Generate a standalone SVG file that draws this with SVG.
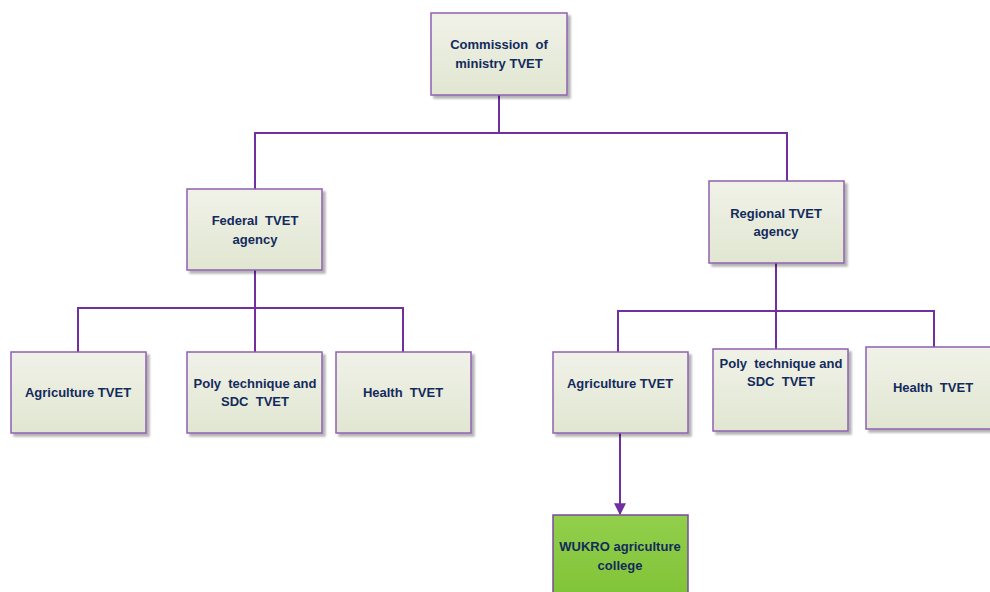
<svg xmlns="http://www.w3.org/2000/svg" width="990" height="592" viewBox="0 0 990 592">
  <defs>
    <linearGradient id="boxFill" x1="0" y1="0" x2="0" y2="1">
      <stop offset="0" stop-color="#f0f2e8"/>
      <stop offset="1" stop-color="#e1e6d1"/>
    </linearGradient>
    <linearGradient id="greenFill" x1="0" y1="0" x2="0" y2="1">
      <stop offset="0" stop-color="#92cf4c"/>
      <stop offset="1" stop-color="#7fc236"/>
    </linearGradient>
    <filter id="shadow" x="-10%" y="-10%" width="130%" height="130%">
      <feGaussianBlur in="SourceAlpha" stdDeviation="1"/>
      <feOffset dx="3" dy="3" result="b"/>
      <feComponentTransfer><feFuncA type="linear" slope="0.3"/></feComponentTransfer>
      <feMerge><feMergeNode/><feMergeNode in="SourceGraphic"/></feMerge>
    </filter>
    <marker id="arrow" viewBox="0 0 10 10" refX="9" refY="5" markerWidth="13" markerHeight="12" orient="auto" markerUnits="userSpaceOnUse">
      <path d="M0,0 L10,5 L0,10 z" fill="#7030a0"/>
    </marker>
  </defs>
  <style>
    .box { fill: url(#boxFill); stroke: #8e60b0; stroke-width: 1.5; filter: url(#shadow); }
    .green { fill: url(#greenFill); stroke: #7a4a9e; stroke-width: 1.5; }
    .lbl { font-family: "Liberation Sans", Arial, sans-serif; font-weight: bold; font-size: 13px; fill: #132a5c; text-anchor: middle; white-space: pre; }
    .conn { fill: none; stroke: #7030a0; stroke-width: 2; }
  </style>

  <rect width="990" height="592" fill="#ffffff"/>

  <g id="connectors">
    <path class="conn" d="M499,95 V133 M255,189 V133 H787 V181"/>
    <path class="conn" d="M255,270 V308 M78,352 V308 H403 V352 M255,308 V352"/>
    <path class="conn" d="M776,263 V349 M618,352 V311 H934 V347"/>
    <path class="conn" d="M620,433 V514" marker-end="url(#arrow)"/>
  </g>

  <g id="commission">
    <rect class="box" x="431" y="13" width="136" height="82"/>
    <text class="lbl" x="499" y="49" xml:space="preserve">Commission  of</text>
    <text class="lbl" x="499" y="68">ministry TVET</text>
  </g>

  <g id="federal">
    <rect class="box" x="187" y="189" width="135" height="81"/>
    <text class="lbl" x="255" y="225" xml:space="preserve">Federal  TVET</text>
    <text class="lbl" x="255" y="244">agency</text>
  </g>

  <g id="regional">
    <rect class="box" x="709" y="181" width="135" height="82"/>
    <text class="lbl" x="776" y="218">Regional TVET</text>
    <text class="lbl" x="776" y="236">agency</text>
  </g>

  <g id="fed-agriculture">
    <rect class="box" x="11" y="352" width="135" height="81"/>
    <text class="lbl" x="78" y="397">Agriculture TVET</text>
  </g>

  <g id="fed-poly">
    <rect class="box" x="187" y="352" width="135" height="81"/>
    <text class="lbl" x="255" y="388" xml:space="preserve">Poly  technique and</text>
    <text class="lbl" x="255" y="406" xml:space="preserve">SDC  TVET</text>
  </g>

  <g id="fed-health">
    <rect class="box" x="336" y="352" width="135" height="81"/>
    <text class="lbl" x="403" y="397" xml:space="preserve">Health  TVET</text>
  </g>

  <g id="reg-agriculture">
    <rect class="box" x="553" y="352" width="135" height="81"/>
    <text class="lbl" x="620" y="388">Agriculture TVET</text>
  </g>

  <g id="reg-poly">
    <rect class="box" x="713" y="349" width="135" height="82"/>
    <text class="lbl" x="781" y="368" xml:space="preserve">Poly  technique and</text>
    <text class="lbl" x="781" y="386" xml:space="preserve">SDC  TVET</text>
  </g>

  <g id="reg-health">
    <rect class="box" x="866" y="347" width="135" height="82"/>
    <text class="lbl" x="933" y="392" xml:space="preserve">Health  TVET</text>
  </g>

  <g id="wukro">
    <rect class="green" x="553" y="515" width="135" height="90"/>
    <text class="lbl" x="620" y="551">WUKRO agriculture</text>
    <text class="lbl" x="620" y="570">college</text>
  </g>
</svg>
